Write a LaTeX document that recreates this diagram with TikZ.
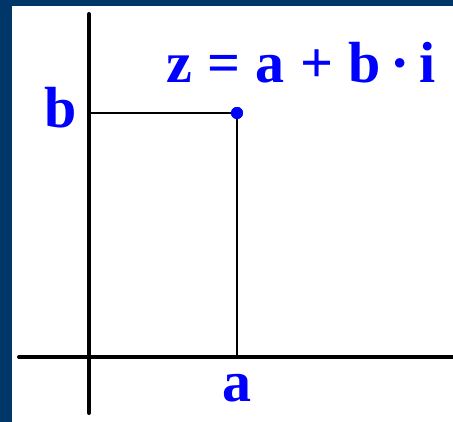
\documentclass[tikz,border=0pt]{standalone}
\usepackage{fontspec}
\setmainfont{Liberation Serif}
\definecolor{frameblue}{RGB}{0,54,104}
\definecolor{lblue}{RGB}{0,0,255}
\begin{document}
\begin{tikzpicture}[x=1pt,y=-1pt,
  axis/.style={line width=4pt,line cap=round},
  thin line/.style={line width=1.3pt},
  lbl/.style={text=lblue,font=\bfseries\fontsize{58}{58}\selectfont,inner sep=0pt},
  pt/.style={circle,fill=lblue,inner sep=0pt,minimum size=12pt}]
\useasboundingbox (0,0) rectangle (453,422);
\fill[frameblue] (0,0) rectangle (453,422);
\fill[white] (12,6) rectangle (453,422);
% axes
\coordinate (ytop) at (89,14);
\coordinate (ybot) at (89,413);
\coordinate (xl) at (19,357);
\coordinate (xr) at (455,357);
\draw[axis] (ytop) -- (ybot);
\draw[axis] (xl) -- (xr);
% point
\coordinate (Py) at (89,113);
\coordinate (Px) at (237,357);
\node[pt] (P) at (237,113) {};
\draw[thin line] (Py) -- (P.center) -- (Px);
\node[pt] at (P.center) {};
% labels
\node[lbl,anchor=base] (b) at (61,128) {b};
\node[lbl,anchor=base] (a) at (237,402) {a};
\node[lbl,anchor=base west] (z) at (166,83) {z\hspace{0.265em}=\hspace{0.265em}a\hspace{0.265em}+\hspace{0.265em}b\,·\,i};
\end{tikzpicture}
\end{document}
